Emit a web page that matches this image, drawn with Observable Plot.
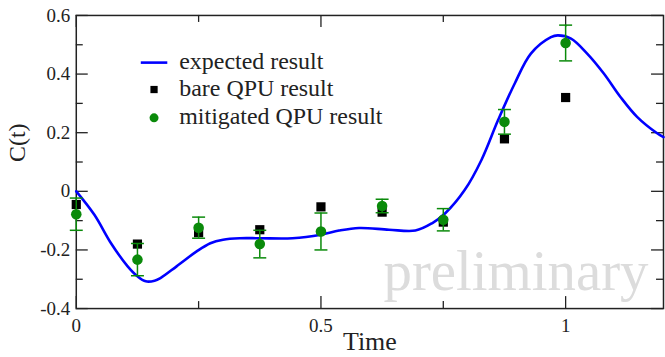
<!DOCTYPE html>
<html>
<head>
<meta charset="utf-8">
<script src="https://cdn.jsdelivr.net/npm/d3@7"></script>
<script src="https://cdn.jsdelivr.net/npm/@observablehq/plot@0.6"></script>
<style>
  html, body { margin: 0; padding: 0; background: white; overflow: hidden; }
  svg text { font-family: 'Liberation Serif', 'Times New Roman', serif; }
</style>
</head>
<body>
<script>
// Measured points (time, C(t))
const times = [0, 0.125, 0.25, 0.375, 0.5, 0.625, 0.75, 0.875, 1.0];
const bare = [-0.045, -0.18, -0.141, -0.131, -0.053, -0.071, -0.105, 0.179, 0.32];
const mitigated = [-0.078, -0.233, -0.124, -0.18, -0.137, -0.05, -0.097, 0.237, 0.506];
const mitigatedErr = [0.055, 0.055, 0.036, 0.047, 0.063, 0.023, 0.038, 0.042, 0.061];

// Expected result curve
const curveT = [0, 0.037, 0.071, 0.105, 0.125, 0.142, 0.16, 0.172, 0.205, 0.246, 0.274, 0.30, 0.334, 0.375, 0.442, 0.5, 0.537, 0.578, 0.639, 0.693, 0.727, 0.754, 0.794, 0.828, 0.862, 0.896, 0.929, 0.970, 0.984, 1.011, 1.044, 1.078, 1.112, 1.146, 1.187, 1.2];
const curveC = [0, -0.08, -0.177, -0.256, -0.29, -0.307, -0.305, -0.296, -0.256, -0.205, -0.177, -0.165, -0.16, -0.16, -0.16, -0.148, -0.134, -0.125, -0.131, -0.134, -0.109, -0.075, 0.005, 0.107, 0.243, 0.368, 0.47, 0.526, 0.532, 0.521, 0.47, 0.402, 0.322, 0.254, 0.198, 0.185];

// Ticks and labels
const xLabelTicks = [0, 0.5, 1];
const xMajorTicks = [0, 0.5, 1];
const xMinorTicks = [0.25, 0.75];
const yLabelTicks = [-0.4, -0.2, 0, 0.2, 0.4, 0.6];
const yMajorTicks = [-0.4, -0.2, 0, 0.2, 0.4, 0.6];
const yMinorTicks = [-0.3, -0.1, 0.1, 0.3, 0.5];
const legendLabels = ["expected result", "bare QPU result", "mitigated QPU result"];
const xTitle = "Time";
const yTitle = "C(t)";
const watermark = "preliminary";

const points = times.map((t, i) => ({t, bare: bare[i], mit: mitigated[i], lo: mitigated[i] - mitigatedErr[i], hi: mitigated[i] + mitigatedErr[i]}));
const curve = curveT.map((t, i) => ({t, c: curveC[i]}));

const W = 667, H = 357, ML = 76, MR = 2, MT = 15, MB = 48;
const PW = W - ML - MR, PH = H - MT - MB;
const MAJ = 12, MIN = 7;
const BLUE = "#0000ff", GREEN = "#0a8a0a", AX = "#222";
const hline = w => ({draw(ctx) { ctx.moveTo(-w / 2, 0); ctx.lineTo(w / 2, 0); }});

const chart = Plot.plot({
  width: W, height: H,
  marginLeft: ML, marginRight: MR, marginTop: MT, marginBottom: MB,
  x: {domain: [0, 1.2]},
  y: {domain: [-0.4, 0.6]},
  style: "font-family: 'Liberation Serif', 'Times New Roman', serif; color: #222; background: white;",
  marks: [
    Plot.text([watermark], {frameAnchor: "bottom-right", text: d => d, textAnchor: "end", lineAnchor: "middle", dx: -15, dy: -37, fontSize: 57, fill: "#dcdcdc"}),
    // inward ticks
    Plot.ruleX(xMajorTicks, {x: d => d, insetTop: PH - MAJ, stroke: AX, strokeWidth: 1.3}),
    Plot.ruleX(xMinorTicks, {x: d => d, insetTop: PH - MIN, stroke: AX, strokeWidth: 1.3}),
    Plot.ruleX(xMajorTicks, {x: d => d, insetBottom: PH - MAJ, stroke: AX, strokeWidth: 1.3}),
    Plot.ruleX(xMinorTicks, {x: d => d, insetBottom: PH - MIN, stroke: AX, strokeWidth: 1.3}),
    Plot.ruleY(yMajorTicks, {y: d => d, insetRight: PW - MAJ, stroke: AX, strokeWidth: 1.3}),
    Plot.ruleY(yMinorTicks, {y: d => d, insetRight: PW - MIN, stroke: AX, strokeWidth: 1.3}),
    Plot.ruleY(yMajorTicks, {y: d => d, insetLeft: PW - MAJ, stroke: AX, strokeWidth: 1.3}),
    Plot.ruleY(yMinorTicks, {y: d => d, insetLeft: PW - MIN, stroke: AX, strokeWidth: 1.3}),
    Plot.frame({stroke: AX, strokeWidth: 1.5}),
    Plot.axisX(xLabelTicks, {tickSize: 0, tickPadding: 10, fontSize: 19, tickFormat: d => String(d), label: null}),
    Plot.axisY(yLabelTicks, {tickSize: 0, tickPadding: 6, fontSize: 19, tickFormat: d => String(d), label: null}),
    Plot.text([xTitle], {frameAnchor: "bottom", text: d => d, lineAnchor: "middle", dy: 33, fontSize: 26, fill: AX}),
    Plot.text([yTitle], {frameAnchor: "left", text: d => d, lineAnchor: "middle", rotate: -90, dx: -59, fontSize: 24, fill: AX}),
    // data
    Plot.line(curve, {x: "t", y: "c", stroke: BLUE, strokeWidth: 2.6, curve: "catmull-rom"}),
    Plot.dot(points, {x: "t", y: "bare", symbol: "square", r: 5.2, fill: "black", stroke: "none"}),
    Plot.ruleX(points, {x: "t", y1: "lo", y2: "hi", stroke: GREEN, strokeWidth: 1.5}),
    Plot.dot(points, {x: "t", y: "lo", symbol: hline(13), fill: "none", stroke: GREEN, strokeWidth: 1.5}),
    Plot.dot(points, {x: "t", y: "hi", symbol: hline(13), fill: "none", stroke: GREEN, strokeWidth: 1.5}),
    Plot.dot(points, {x: "t", y: "mit", symbol: "circle", r: 5.3, fill: GREEN, stroke: "none"}),
    // legend
    Plot.dot([legendLabels[0]], {frameAnchor: "top-left", dx: 78, dy: 47.3, symbol: hline(26.6), fill: "none", stroke: BLUE, strokeWidth: 2.6}),
    Plot.dot([legendLabels[1]], {frameAnchor: "top-left", dx: 78, dy: 74.3, symbol: "square", r: 4.1, fill: "black", stroke: "none"}),
    Plot.dot([legendLabels[2]], {frameAnchor: "top-left", dx: 78, dy: 102.7, symbol: "circle", r: 4.5, fill: GREEN, stroke: "none"}),
    Plot.text([legendLabels[0]], {frameAnchor: "top-left", text: d => d, textAnchor: "start", lineAnchor: "middle", dx: 103.3, dy: 45.6, fontSize: 24, fill: AX}),
    Plot.text([legendLabels[1]], {frameAnchor: "top-left", text: d => d, textAnchor: "start", lineAnchor: "middle", dx: 103.3, dy: 72.8, fontSize: 24, fill: AX}),
    Plot.text([legendLabels[2]], {frameAnchor: "top-left", text: d => d, textAnchor: "start", lineAnchor: "middle", dx: 103.3, dy: 101.3, fontSize: 24, fill: AX})
  ]
});
document.body.appendChild(chart);
</script>
</body>
</html>
